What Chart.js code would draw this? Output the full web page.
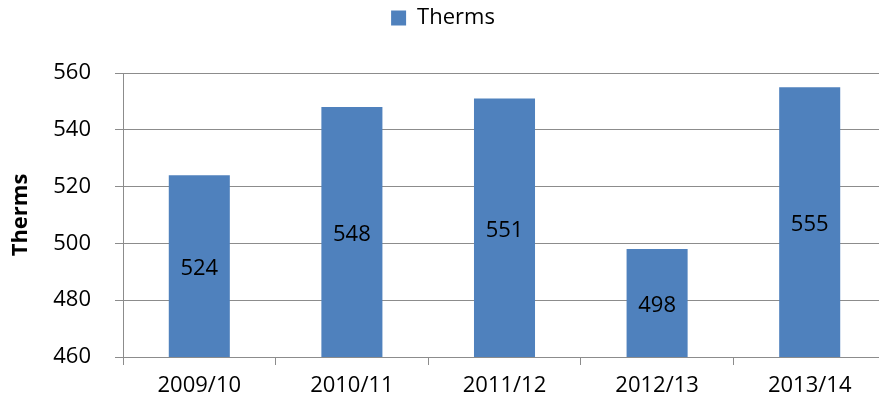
<!DOCTYPE html>
<html>
<head>
<meta charset="utf-8">
<script src="https://cdn.jsdelivr.net/npm/chart.js@4"></script>
<style>
  html, body { margin: 0; padding: 0; background: #fff; overflow: hidden; }
  #wrap { width: 886px; height: 405px; }
</style>
</head>
<body>
<div id="wrap"><canvas id="thermsCanvas" width="886" height="405"></canvas></div>
<script>
// chart data
var years = ['2009/10', '2010/11', '2011/12', '2012/13', '2013/14'];
var therms = [524, 548, 551, 498, 555];
var yTicks = [460, 480, 500, 520, 540, 560];

var gridGrey = '#8c8c8c';
var fontFamily = "'Open Sans', sans-serif";

// draws the value in the middle of the visible part of each bar
var barLabels = {
    id: 'barLabels',
    afterDatasetsDraw: function (chart) {
        var ctx = chart.ctx;
        var meta = chart.getDatasetMeta(0);
        var bottom = chart.chartArea.bottom;
        ctx.save();
        ctx.font = '22px ' + fontFamily;
        ctx.fillStyle = '#000';
        ctx.textAlign = 'center';
        ctx.textBaseline = 'middle';
        meta.data.forEach(function (bar, i) {
            var p = bar.getProps(['x', 'y', 'base'], true);
            var base = Math.min(p.base, bottom);
            ctx.fillText(String(therms[i]), p.x, (p.y + base) / 2 + 3);
        });
        ctx.restore();
    }
};

// extra room under the legend
var legendGap = {
    id: 'legendGap',
    beforeInit: function (chart) {
        var fit = chart.legend.fit;
        chart.legend.fit = function () {
            fit.bind(chart.legend)();
            this.height += 34;
        };
    }
};

var chart = new Chart(document.getElementById('thermsCanvas'), {
    type: 'bar',
    data: {
        labels: years,
        datasets: [{
            label: 'Therms',
            data: therms,
            backgroundColor: '#4F81BD',
            borderWidth: 0,
            categoryPercentage: 1,
            barPercentage: 0.4
        }]
    },
    options: {
        responsive: false,
        animation: false,
        layout: { padding: { left: 0, right: 0, top: 0, bottom: 0 } },
        plugins: {
            legend: {
                position: 'top',
                labels: {
                    boxWidth: 15,
                    boxHeight: 15,
                    padding: 7,
                    color: '#000',
                    font: { family: fontFamily, size: 22 }
                }
            },
            tooltip: { enabled: false }
        },
        scales: {
            x: {
                grid: {
                    offset: true,
                    drawOnChartArea: false,
                    tickLength: 8,
                    color: gridGrey
                },
                border: { color: gridGrey },
                ticks: {
                    color: '#000',
                    padding: 8,
                    maxRotation: 0,
                    font: { family: fontFamily, size: 22 }
                },
                afterFit: function (scale) { scale.height = 48; }
            },
            y: {
                min: 460,
                max: 560,
                afterBuildTicks: function (scale) {
                    scale.ticks = yTicks.map(function (v) { return { value: v }; });
                },
                grid: { color: gridGrey, tickLength: 8 },
                border: { color: gridGrey },
                ticks: {
                    color: '#000',
                    padding: 24,
                    font: { family: fontFamily, size: 22 }
                },
                title: {
                    display: true,
                    text: 'Therms',
                    color: '#000',
                    padding: 8,
                    font: { family: fontFamily, size: 22, weight: 'bold' }
                },
                afterFit: function (scale) { scale.width = 123; }
            }
        }
    },
    plugins: [barLabels, legendGap]
});
</script>
</body>
</html>
